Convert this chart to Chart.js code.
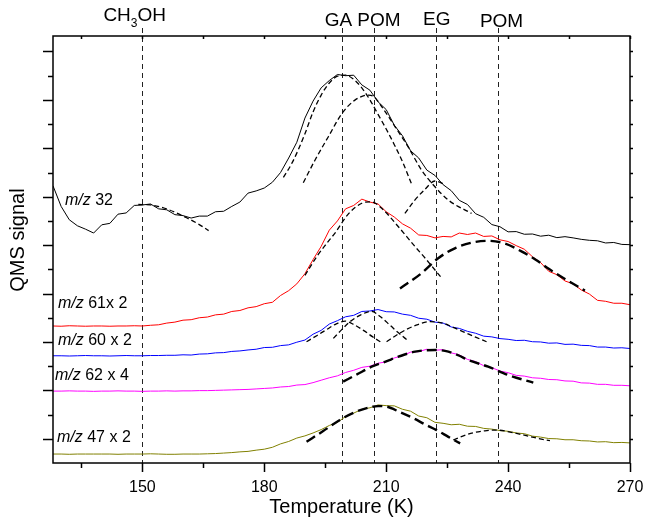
<!DOCTYPE html>
<html>
<head>
<meta charset="utf-8">
<script src="https://cdn.jsdelivr.net/npm/chart.js@4.4.1/dist/chart.umd.min.js"></script>
<style>
  body { margin: 0; background: #fff; }
  #wrap { width: 645px; height: 522px; }
</style>
</head>
<body>
<div id="wrap"><canvas id="myChart" width="645" height="522"></canvas></div>
<script>
// temperatures (K) for the measured QMS traces
const temps = [128, 130, 132, 134, 136, 138, 140, 142, 144, 146, 148, 150, 152, 154, 156, 158, 160, 162,
  164, 166, 168, 170, 172, 174, 176, 178, 180, 182, 184, 186, 188, 190, 192, 194, 196, 198,
  200, 202, 204, 206, 208, 210, 212, 214, 216, 218, 220, 222, 224, 226, 228, 230, 232, 234,
  236, 238, 240, 242, 244, 246, 248, 250, 252, 254, 256, 258, 260, 262, 264, 266, 268, 270];

// traces (arbitrary units, already offset like in the figure)
const mz32 = [11.45, 10.6, 10.05, 9.8, 9.66, 9.5, 9.84, 9.9, 10.28, 10.33, 10.64, 10.66, 10.7, 10.5, 10.46, 10.26, 10.22, 10.12,
  10.2, 10.2, 10.38, 10.4, 10.6, 10.78, 11.15, 11.24, 11.36, 11.6, 12.0, 12.6, 13.25, 14.25, 14.95, 15.5, 15.8, 16.05,
  16.0, 16.02, 15.62, 15.4, 14.92, 14.6, 13.95, 13.52, 12.9, 12.6, 12.1, 11.88, 11.5, 11.25, 10.85, 10.68, 10.3, 10.15,
  9.85, 9.76, 9.55, 9.56, 9.45, 9.46, 9.37, 9.41, 9.31, 9.35, 9.3, 9.24, 9.2, 9.18, 9.09, 9.11, 9.03, 9.02];
const mz61 = [5.66, 5.65, 5.67, 5.66, 5.65, 5.66, 5.66, 5.65, 5.66, 5.66, 5.67, 5.66, 5.69, 5.71, 5.78, 5.82, 5.9, 5.92,
  6.0, 6.03, 6.12, 6.15, 6.26, 6.3, 6.41, 6.46, 6.58, 6.64, 6.92, 7.12, 7.4, 7.82, 8.4, 8.95, 9.62, 10.0,
  10.5, 10.64, 10.9, 10.78, 10.7, 10.38, 10.16, 9.88, 9.7, 9.42, 9.4, 9.3, 9.36, 9.34, 9.5, 9.44, 9.5, 9.36,
  9.38, 9.22, 9.15, 8.98, 8.83, 8.52, 8.28, 7.92, 7.78, 7.52, 7.4, 7.15, 6.98, 6.72, 6.68, 6.6, 6.6, 6.54];
const mz60 = [4.43, 4.43, 4.42, 4.43, 4.44, 4.43, 4.43, 4.42, 4.43, 4.44, 4.43, 4.43, 4.44, 4.44, 4.45, 4.45, 4.47, 4.46,
  4.5, 4.51, 4.55, 4.56, 4.61, 4.63, 4.67, 4.7, 4.77, 4.78, 4.85, 4.88, 4.99, 5.08, 5.32, 5.48, 5.74, 5.88,
  6.04, 6.1, 6.26, 6.28, 6.34, 6.25, 6.24, 6.15, 6.1, 5.98, 5.94, 5.82, 5.78, 5.62, 5.56, 5.44, 5.36, 5.24,
  5.21, 5.14, 5.11, 5.06, 5.07, 5.01, 5.0, 4.95, 4.96, 4.9, 4.91, 4.86, 4.85, 4.79, 4.79, 4.75, 4.76, 4.73];
const mz62 = [2.97, 2.97, 2.98, 2.97, 2.97, 2.96, 2.97, 2.97, 2.98, 2.97, 2.97, 2.96, 2.97, 2.97, 2.98, 2.97, 2.98, 2.98,
  2.99, 2.99, 3.0, 3.01, 3.02, 3.03, 3.04, 3.06, 3.08, 3.1, 3.14, 3.16, 3.22, 3.24, 3.32, 3.42, 3.52, 3.6,
  3.74, 3.83, 3.95, 4.0, 4.12, 4.18, 4.34, 4.43, 4.58, 4.6, 4.7, 4.66, 4.68, 4.55, 4.47, 4.28, 4.19, 4.02,
  3.94, 3.8, 3.73, 3.62, 3.59, 3.52, 3.5, 3.45, 3.44, 3.39, 3.38, 3.31, 3.3, 3.25, 3.25, 3.21, 3.21, 3.19];
const mz47 = [0.37, 0.37, 0.36, 0.37, 0.37, 0.37, 0.37, 0.37, 0.36, 0.37, 0.37, 0.37, 0.38, 0.37, 0.36, 0.36, 0.37, 0.37,
  0.37, 0.38, 0.39, 0.41, 0.43, 0.46, 0.48, 0.53, 0.57, 0.65, 0.79, 0.89, 1.03, 1.12, 1.24, 1.38, 1.55, 1.68,
  1.92, 2.06, 2.22, 2.28, 2.4, 2.37, 2.36, 2.22, 2.14, 1.94, 1.87, 1.68, 1.64, 1.58, 1.6, 1.52, 1.51, 1.43,
  1.4, 1.34, 1.31, 1.24, 1.21, 1.11, 1.07, 1.01, 1.0, 0.96, 0.96, 0.92, 0.91, 0.87, 0.88, 0.84, 0.85, 0.83];

// fitted peaks (temperature, value)
const fitCH3OHT = [149, 152, 155, 158, 161, 164, 166.3];
const fitCH3OH = [10.68, 10.66, 10.55, 10.36, 10.12, 9.85, 9.6];
const fit32GAT = [184.7, 187, 190, 192, 194, 196, 198, 200, 202, 204, 206, 208, 210, 212, 214, 216.3];
const fit32GA = [11.8, 12.45, 13.6, 14.5, 15.2, 15.7, 15.98, 16.02, 15.85, 15.5, 15.0, 14.4, 13.8, 13.15, 12.45, 11.5];
const fit32POMT = [189.6, 192.5, 195.8, 199.1, 202.3, 205.6, 207, 208.9, 212.2, 215.4, 218.7, 222, 225.3, 231];
const fit32POM = [11.58, 12.52, 13.49, 14.44, 14.99, 15.2, 15.13, 14.72, 13.89, 13.06, 12.1, 11.41, 10.86, 10.31];
const fit32EGT = [214.6, 217, 219.5, 222, 224.5];
const fit32EG = [10.31, 10.85, 11.3, 11.65, 11.5];
const fit61aT = [190, 193, 195.5, 197.4, 200.8, 204, 206.4, 208.9, 213, 217.1, 219.6, 223.7];
const fit61a = [7.75, 8.55, 9.1, 9.5, 10.31, 10.73, 10.79, 10.52, 9.76, 8.94, 8.46, 7.63];
const fit61bT = [213.4, 218.7, 222.8, 226.9, 231, 235.1, 239.2, 243.4, 246.6, 250, 254, 258.9];
const fit61b = [7.21, 7.84, 8.46, 8.87, 9.1, 9.18, 9.07, 8.73, 8.42, 8.02, 7.6, 7.12];
const fit60aT = [190.4, 193, 195.4, 197.6, 199.9, 202, 204.4, 206.6, 208.9];
const fit60a = [5.01, 5.27, 5.52, 5.74, 5.86, 5.72, 5.48, 5.22, 4.97];
const fit60bT = [197, 199, 201.1, 203.5, 206.4, 208.5, 210.9, 213, 215.4];
const fit60b = [5.15, 5.5, 5.84, 6.1, 6.27, 6.05, 5.7, 5.38, 5.05];
const fit60cT = [210.1, 212.5, 215, 217.8, 220.8, 224.1, 226.5, 229, 232, 234.7];
const fit60c = [5.01, 5.28, 5.52, 5.72, 5.84, 5.77, 5.6, 5.42, 5.2, 5.01];
const fit62T = [199.4, 202.8, 206.4, 210, 213, 217.1, 222, 225.3, 228, 230.2, 235.1, 240.1, 246.2];
const fit62 = [3.36, 3.66, 3.98, 4.2, 4.39, 4.6, 4.67, 4.6, 4.43, 4.25, 3.98, 3.63, 3.32];
const fit47aT = [190.4, 194.5, 198.6, 202.3, 206, 208, 210.1, 213.4, 216.7, 219.5, 222.4, 225.3, 228.2];
const fit47a = [0.88, 1.32, 1.78, 2.1, 2.3, 2.35, 2.33, 2.1, 1.85, 1.6, 1.36, 1.08, 0.81];
const fit47bT = [226.5, 229, 231.4, 234.3, 237.2, 240.5, 243.7, 247, 250.3];
const fit47b = [0.95, 1.12, 1.25, 1.33, 1.36, 1.28, 1.16, 1.03, 0.92];

// desorption peaks marked by vertical lines
const peakT = [150, 199, 207, 222.2, 237.4];
const xTickVals = [150, 180, 210, 240, 270];
const xMinorVals = [135, 165, 195, 225, 255];

const FONT = '"Liberation Sans", Arial, sans-serif';
Chart.defaults.font.family = FONT;
Chart.defaults.color = '#000';

function pts(xs, ys) {
  return xs.map((x, i) => ({x: x, y: ys[i]}));
}

function trace(label, ys, color) {
  return {label: label, data: pts(temps, ys), borderColor: color, borderWidth: 1,
    pointRadius: 0, fill: false, order: 2};
}

function fit(xs, ys, thick) {
  return {label: 'fit', data: pts(xs, ys), borderColor: '#000',
    borderWidth: thick ? 2.4 : 1.3, borderDash: thick ? [10, 5] : [5, 3],
    pointRadius: 0, fill: false, cubicInterpolationMode: 'monotone', order: 1};
}

function mzLabel(ctx, x, y, rest) {
  ctx.font = 'italic 16px ' + FONT;
  ctx.fillText('m/z', x, y);
  let w = ctx.measureText('m/z ').width;
  ctx.font = '16px ' + FONT;
  ctx.fillText(rest, x + w, y);
}

const decor = {
  id: 'decor',
  beforeDatasetsDraw(chart) {
    const ctx = chart.ctx;
    const xs = chart.scales.x;
    const area = chart.chartArea;
    ctx.save();
    ctx.strokeStyle = '#222';
    ctx.lineWidth = 1;
    ctx.setLineDash([5, 4]);
    peakT.forEach(t => {
      let px = Math.round(xs.getPixelForValue(t)) + 0.5;
      ctx.beginPath();
      ctx.moveTo(px, 28);
      ctx.lineTo(px, area.bottom);
      ctx.stroke();
    });
    ctx.restore();
  },
  afterDraw(chart) {
    const ctx = chart.ctx;
    const xs = chart.scales.x;
    const ys = chart.scales.y;
    const a = chart.chartArea;
    ctx.save();
    ctx.strokeStyle = '#000';
    ctx.lineWidth = 1.5;
    ctx.strokeRect(a.left, a.top, a.right - a.left, a.bottom - a.top);

    // y ticks: left outward (long on odd), right outward short
    for (let v = 1; v <= 17; v++) {
      let py = Math.round(ys.getPixelForValue(v)) + 0.5;
      let len = v % 2 ? 10 : 5;
      ctx.beginPath();
      ctx.moveTo(a.left - len, py);
      ctx.lineTo(a.left, py);
      ctx.moveTo(a.right, py);
      ctx.lineTo(a.right + 3, py);
      ctx.stroke();
    }
    // x ticks: bottom outward, top inward
    xTickVals.concat(xMinorVals).forEach(t => {
      let px = Math.round(xs.getPixelForValue(t)) + 0.5;
      let len = xTickVals.includes(t) ? 9 : 5;
      ctx.beginPath();
      ctx.moveTo(px, a.bottom);
      ctx.lineTo(px, a.bottom + len);
      ctx.moveTo(px, a.top);
      ctx.lineTo(px, a.top + 3);
      ctx.stroke();
    });

    ctx.fillStyle = '#000';
    ctx.textBaseline = 'alphabetic';
    ctx.textAlign = 'left';
    // species labels on top
    ctx.font = '19px ' + FONT;
    let cx = xs.getPixelForValue(150) - 39;
    ctx.fillText('CH', cx, 21);
    cx += ctx.measureText('CH').width;
    ctx.font = '12px ' + FONT;
    ctx.fillText('3', cx, 27);
    cx += ctx.measureText('3').width;
    ctx.font = '19px ' + FONT;
    ctx.fillText('OH', cx, 21);
    ctx.textAlign = 'center';
    ctx.fillText('GA', xs.getPixelForValue(199) - 3, 26);
    ctx.fillText('POM', xs.getPixelForValue(207) + 5, 26);
    ctx.fillText('EG', xs.getPixelForValue(222.2) + 1, 25);
    ctx.fillText('POM', xs.getPixelForValue(237.4) + 4, 27);

    // trace labels
    ctx.textAlign = 'left';
    mzLabel(ctx, a.left + 12, 205, '32');
    mzLabel(ctx, a.left + 5, 308, '61x 2');
    mzLabel(ctx, a.left + 5, 345, '60 x 2');
    mzLabel(ctx, a.left + 2, 380, '62 x 4');
    mzLabel(ctx, a.left + 4, 442, '47 x 2');

    // y axis title
    ctx.translate(18, 240);
    ctx.rotate(-Math.PI / 2);
    ctx.textAlign = 'center';
    ctx.textBaseline = 'middle';
    ctx.font = '20px ' + FONT;
    ctx.fillText('QMS signal', 0, 0);
    ctx.restore();
  }
};

const ctx = document.getElementById('myChart').getContext('2d');

let options = {
  type: 'line',
  data: {
    datasets: [
      trace('m/z 32', mz32, '#000000'),
      trace('m/z 61 x 2', mz61, '#ff0000'),
      trace('m/z 60 x 2', mz60, '#0000ff'),
      trace('m/z 62 x 4', mz62, '#ff00ff'),
      trace('m/z 47 x 2', mz47, '#808000'),
      fit(fitCH3OHT, fitCH3OH, false),
      fit(fit32GAT, fit32GA, false),
      fit(fit32POMT, fit32POM, false),
      fit(fit32EGT, fit32EG, false),
      fit(fit61aT, fit61a, false),
      fit(fit61bT, fit61b, true),
      fit(fit60aT, fit60a, false),
      fit(fit60bT, fit60b, false),
      fit(fit60cT, fit60c, false),
      fit(fit62T, fit62, true),
      fit(fit47aT, fit47a, true),
      fit(fit47bT, fit47b, false)
    ]
  },
  options: {
    responsive: false,
    animation: false,
    devicePixelRatio: 1,
    layout: { padding: { left: 53, right: 15, top: 36, bottom: 0 } },
    plugins: { legend: { display: false }, tooltip: { enabled: false } },
    scales: {
      x: {
        type: 'linear',
        min: 128,
        max: 270,
        grid: { display: false, drawTicks: false },
        border: { display: false },
        afterBuildTicks: s => { s.ticks = xTickVals.map(v => ({value: v})); },
        afterFit: s => { s.height = 59; s.paddingLeft = 0; s.paddingRight = 0; },
        ticks: { font: { size: 16 }, color: '#000', padding: 15, maxRotation: 0 },
        title: { display: true, text: 'Temperature (K)', color: '#000',
          font: { size: 20 }, padding: { top: 0, bottom: 3 } }
      },
      y: {
        display: false,
        min: 0,
        max: 17.64
      }
    }
  },
  plugins: [decor]
};

const myChart = new Chart(ctx, options);
</script>
</body>
</html>
